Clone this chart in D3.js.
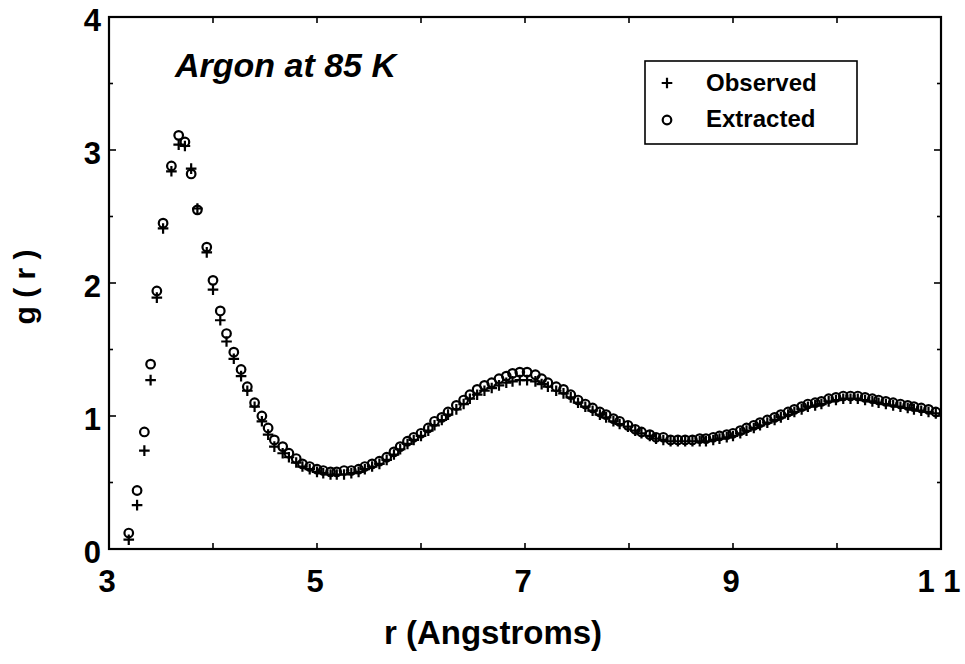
<!DOCTYPE html>
<html><head><meta charset="utf-8">
<script src="https://cdn.jsdelivr.net/npm/d3@7"></script>
<style>
html,body{margin:0;padding:0;background:#fff;}
svg text{font-family:"Liberation Sans",Arial,Helvetica,sans-serif;font-weight:bold;fill:#000;}
</style></head>
<body>
<svg id="chart" width="965" height="664"></svg>
<script>
const rValues = [3.19,3.27,3.34,3.40,3.46,3.52,3.60,3.67,3.73,3.79,3.85,3.94,4.00,4.07,4.13,4.20,4.27,4.33,4.40,4.47,4.53,4.59,4.67,4.73,4.80,4.86,4.93,5.00,5.06,5.13,5.19,5.26,5.33,5.40,5.46,5.53,5.60,5.67,5.74,5.80,5.87,5.93,6.00,6.07,6.13,6.20,6.26,6.34,6.41,6.47,6.54,6.61,6.68,6.75,6.82,6.88,6.95,7.02,7.10,7.16,7.22,7.30,7.37,7.44,7.51,7.58,7.65,7.72,7.78,7.85,7.91,7.99,8.06,8.12,8.20,8.26,8.33,8.40,8.47,8.54,8.61,8.68,8.74,8.81,8.87,8.94,9.00,9.07,9.13,9.20,9.26,9.33,9.40,9.46,9.53,9.59,9.66,9.72,9.79,9.85,9.92,9.99,10.06,10.13,10.20,10.27,10.34,10.40,10.47,10.54,10.61,10.68,10.74,10.81,10.88,10.95];
const extracted = [0.12,0.44,0.88,1.39,1.94,2.45,2.88,3.11,3.06,2.82,2.55,2.27,2.02,1.79,1.62,1.48,1.35,1.22,1.10,1.00,0.91,0.82,0.77,0.72,0.68,0.64,0.62,0.60,0.59,0.58,0.58,0.59,0.59,0.60,0.62,0.64,0.66,0.69,0.73,0.77,0.81,0.84,0.87,0.91,0.96,0.99,1.03,1.08,1.12,1.16,1.20,1.23,1.25,1.28,1.30,1.32,1.33,1.33,1.31,1.28,1.25,1.22,1.20,1.16,1.12,1.09,1.06,1.03,1.01,0.98,0.96,0.93,0.90,0.88,0.86,0.84,0.84,0.82,0.82,0.82,0.82,0.83,0.83,0.84,0.85,0.86,0.87,0.89,0.91,0.93,0.95,0.97,0.99,1.01,1.03,1.05,1.07,1.09,1.10,1.11,1.13,1.14,1.15,1.15,1.15,1.14,1.13,1.12,1.11,1.10,1.09,1.08,1.07,1.06,1.05,1.03];
const observed = [0.07,0.33,0.74,1.27,1.89,2.41,2.84,3.04,3.03,2.86,2.56,2.23,1.95,1.72,1.56,1.43,1.30,1.19,1.07,0.96,0.86,0.77,0.72,0.69,0.65,0.62,0.60,0.58,0.57,0.56,0.56,0.56,0.57,0.58,0.60,0.62,0.64,0.67,0.71,0.75,0.79,0.82,0.85,0.89,0.93,0.97,1.01,1.05,1.09,1.13,1.16,1.19,1.21,1.23,1.25,1.26,1.27,1.27,1.26,1.24,1.22,1.19,1.17,1.14,1.10,1.07,1.04,1.01,0.99,0.96,0.94,0.92,0.89,0.87,0.85,0.83,0.82,0.81,0.81,0.81,0.81,0.81,0.81,0.82,0.83,0.84,0.85,0.87,0.89,0.91,0.93,0.95,0.97,0.99,1.01,1.03,1.05,1.07,1.08,1.09,1.11,1.12,1.13,1.13,1.13,1.12,1.11,1.10,1.09,1.08,1.07,1.06,1.05,1.04,1.03,1.02];
const xTickValues = [3,4,5,6,7,8,9,10,11];
const xTickLabels = {3:"3",5:"5",7:"7",9:"9",11:"1 1"};
const yTickValues = [0,0.5,1,1.5,2,2.5,3,3.5,4];
const yTickLabels = {0:"0",1:"1",2:"2",3:"3",4:"4"};
const titleText = "Argon at 85 K";
const legendItems = ["Observed","Extracted"];
const xLabel = "r (Angstroms)";
const yLabel = "g ( r )";

const svg = d3.select("#chart");
const L = 109, T = 17, R = 941, B = 549;
const x = d3.scaleLinear().domain([3,11]).range([L,R]);
const y = d3.scaleLinear().domain([0,4]).range([B,T]);

// frame
svg.append("rect").attr("x",L).attr("y",T).attr("width",R-L).attr("height",B-T)
  .attr("fill","none").attr("stroke","#000").attr("stroke-width",2.2);

// ticks (inward on all four sides)
const tk = svg.append("g").attr("stroke","#000").attr("stroke-width",1.6);
xTickValues.forEach(v=>{
  if (v===3 || v===11) return;
  tk.append("line").attr("x1",x(v)).attr("x2",x(v)).attr("y1",B).attr("y2",B-6);
  tk.append("line").attr("x1",x(v)).attr("x2",x(v)).attr("y1",T).attr("y2",T+6);
});
yTickValues.forEach(v=>{
  if (v===0 || v===4) return;
  const len = Number.isInteger(v) ? 7 : 4;
  tk.append("line").attr("x1",L).attr("x2",L+len).attr("y1",y(v)).attr("y2",y(v));
  tk.append("line").attr("x1",R).attr("x2",R-len).attr("y1",y(v)).attr("y2",y(v));
});

// tick labels
xTickValues.filter(v=>xTickLabels[v]!==undefined).forEach(v=>{
  svg.append("text").attr("x",x(v)-2).attr("y",592).attr("text-anchor","middle")
    .attr("font-size",31).text(xTickLabels[v]);
});
yTickValues.filter(v=>yTickLabels[v]!==undefined).forEach(v=>{
  svg.append("text").attr("x",101).attr("y",y(v)+14).attr("text-anchor","end")
    .attr("font-size",31).text(yTickLabels[v]);
});

// axis labels
svg.append("text").attr("x",493).attr("y",644).attr("text-anchor","middle")
  .attr("font-size",33).text(xLabel);
svg.append("text").attr("transform","translate(35,287) rotate(-90)").attr("text-anchor","middle")
  .attr("font-size",30).text(yLabel);

// title
svg.append("text").attr("x",175).attr("y",77).attr("font-size",34).attr("font-style","italic").text(titleText);

// data
const obsData = rValues.map((r,i)=>({r:r,g:observed[i]}));
const extData = rValues.map((r,i)=>({r:r,g:extracted[i]}));
function plusPath(cx,cy,h){return `M${cx-h},${cy}H${cx+h}M${cx},${cy-h}V${cy+h}`;}

svg.append("g").selectAll("path").data(obsData).join("path")
  .attr("d",d=>plusPath(x(d.r),y(d.g),5.3))
  .attr("stroke","#000").attr("stroke-width",2.2).attr("fill","none");
svg.append("g").selectAll("circle").data(extData).join("circle")
  .attr("cx",d=>x(d.r)).attr("cy",d=>y(d.g)).attr("r",4.3)
  .attr("fill","none").attr("stroke","#000").attr("stroke-width",2.2);

// legend
svg.append("rect").attr("x",645).attr("y",61).attr("width",212).attr("height",83)
  .attr("fill","#fff").attr("stroke","#000").attr("stroke-width",1.6);
svg.append("path").attr("d",plusPath(667,83,5.3)).attr("stroke","#000").attr("stroke-width",2.2);
svg.append("circle").attr("cx",667).attr("cy",120).attr("r",4.3).attr("fill","none")
  .attr("stroke","#000").attr("stroke-width",2.2);
svg.append("text").attr("x",706).attr("y",91).attr("font-size",24).text(legendItems[0]);
svg.append("text").attr("x",706).attr("y",127).attr("font-size",24).text(legendItems[1]);
</script>
</body></html>
